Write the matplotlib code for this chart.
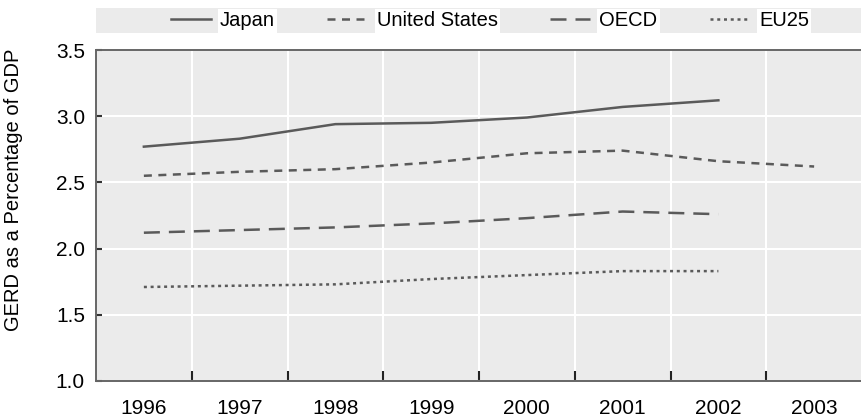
import matplotlib
matplotlib.use("Agg")
import matplotlib.pyplot as plt
from matplotlib.patches import Rectangle
from matplotlib.ticker import FixedLocator

# ─────────── data (GERD as % of GDP) ───────────
years       = [1996, 1997, 1998, 1999, 2000, 2001, 2002, 2003]
japan       = [2.77, 2.83, 2.94, 2.95, 2.99, 3.07, 3.12]
us          = [2.55, 2.58, 2.60, 2.65, 2.72, 2.74, 2.66, 2.62]
oecd        = [2.12, 2.14, 2.16, 2.19, 2.23, 2.28, 2.26]
eu25        = [1.71, 1.72, 1.73, 1.77, 1.80, 1.83, 1.83]
year_labels = [str(y) for y in years]
y_ticks     = [1.0, 1.5, 2.0, 2.5, 3.0, 3.5]

plt.rcParams["font.family"] = ["Liberation Sans", "DejaVu Sans"]

LINE = "#5a5a5a"
BG   = "#ebebeb"

fig = plt.figure(figsize=(8.62, 4.17), dpi=100)
ax = fig.add_axes([96 / 862, 1 - 381 / 417, 1 - 96 / 862, 331 / 417])
ax.set_facecolor(BG)

series = [
    ("Japan",         japan, "-"),
    ("United States", us,    (0, (3.2, 2.6))),
    ("OECD",          oecd,  (0, (6.4, 3.6))),
    ("EU25",          eu25,  (0, (1.2, 1.5))),
]
handles = []
for name, vals, ls in series:
    h, = ax.plot(years[:len(vals)], vals, color=LINE, lw=1.8, ls=ls, label=name)
    handles.append(h)

ax.set_xlim(1995.5, 2003.5)
ax.set_ylim(1.0, 3.5)
ax.set_xticks(years)
ax.set_xticklabels(year_labels)
ax.xaxis.set_minor_locator(FixedLocator([y + 0.5 for y in years[:-1]]))
ax.set_yticks(y_ticks)
ax.set_yticklabels([f"{v:.1f}" for v in y_ticks])

ax.tick_params(axis="x", which="major", length=0, pad=13, labelsize=15)
ax.tick_params(axis="x", which="minor", direction="in", length=7, width=1.5,
               color="#222222")
ax.tick_params(axis="y", direction="in", length=4, width=1.5, color="#333333",
               pad=8, labelsize=15)

ax.grid(True, axis="y", which="major", color="white", lw=1.5)
ax.grid(True, axis="x", which="minor", color="white", lw=1.5)
ax.set_axisbelow(True)

for s in ("left", "bottom", "top"):
    ax.spines[s].set_color("#666666")
    ax.spines[s].set_linewidth(1.4)
ax.spines["right"].set_visible(False)

fig.text(14 / 862, 1 - 190 / 417, "GERD as a Percentage of GDP", rotation=90,
         ha="center", va="center", fontsize=14.5)

# legend band above the plot
fig.patches.append(Rectangle((96 / 862, 1 - 33 / 417), 1 - 96 / 862, 25 / 417,
                             transform=fig.transFigure, facecolor=BG,
                             edgecolor="none", zorder=0))
leg = fig.legend(handles=handles, loc="center", ncol=4,
                 bbox_to_anchor=(490 / 862, 1 - 21 / 417), frameon=False,
                 fontsize=14.5, handlelength=2.0, handletextpad=0.45,
                 columnspacing=2.6)
for t in leg.get_texts():
    t.set_bbox(dict(facecolor="white", edgecolor="none", pad=1.5))

fig.savefig("out.png", dpi=100)
